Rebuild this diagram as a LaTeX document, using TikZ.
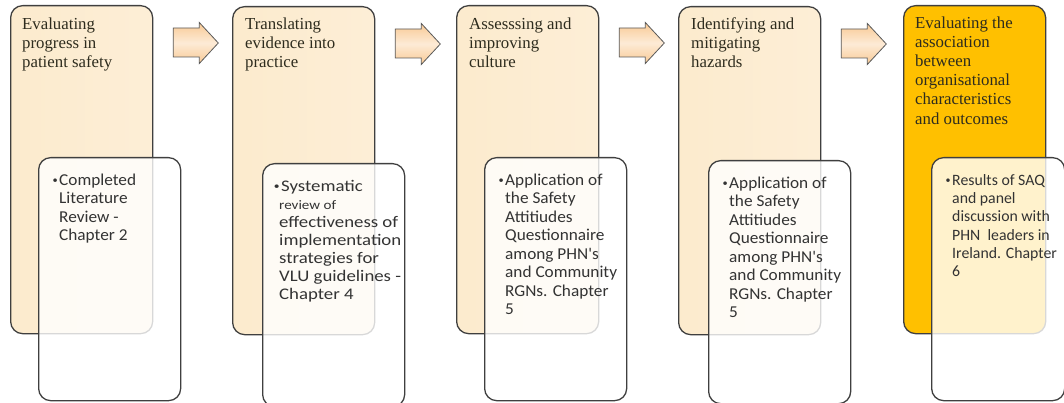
\documentclass[tikz,border=0pt]{standalone}
\usepackage{fontspec}
\setmainfont{Liberation Serif}
\newfontfamily\calibrifont[FakeStretch=1.04]{Carlito}
\newfontfamily\calibriwide[FakeStretch=1.16]{Carlito}
\newfontfamily\calibriplain{Carlito}
\usetikzlibrary{calc}
\definecolor{edge}{HTML}{3F3F3F}
\definecolor{arrowA}{HTML}{F8C994}
\definecolor{arrowB}{HTML}{FDEBD6}
\definecolor{txt}{HTML}{2E2C1E}
\definecolor{txtB}{HTML}{333333}
\definecolor{creamA}{HTML}{F8DAAE}
\definecolor{creamB}{HTML}{FCEACB}
\definecolor{creamC}{HTML}{FDEFD9}
\definecolor{goldA}{HTML}{F4B600}
\definecolor{goldB}{HTML}{FFD34C}
\definecolor{goldC}{HTML}{FFC000}
\pgfdeclarehorizontalshading{creamsh}{100bp}{color(0bp)=(creamA); color(4bp)=(creamA); color(12bp)=(creamB); color(90bp)=(creamC); color(100bp)=(creamC)}
\pgfdeclarehorizontalshading{goldsh}{100bp}{color(0bp)=(goldA); color(3bp)=(goldB); color(12bp)=(goldC); color(88bp)=(goldC); color(95bp)=(goldB); color(100bp)=(goldA)}
\newcommand{\bul}{\llap{\fontsize{10}{10}\selectfont\raisebox{1.5pt}{•}\hspace{1.5pt}}}
\newcommand{\st}{\rule{0pt}{12pt}}
\begin{document}
\begin{tikzpicture}[x=1pt,y=-1pt,
  bigbox/.style={draw=edge, line width=1.3pt, rounded corners=12pt, minimum width=142pt, minimum height=328pt, anchor=north west, inner sep=0pt,
    shading=creamsh},
  goldbox/.style={bigbox, shading=goldsh},
  innerbox/.style={draw=edge, line width=1.3pt, rounded corners=12pt, minimum width=142pt, minimum height=243pt, anchor=north west, inner sep=0pt,
    fill=white, fill opacity=0.8},
  titletext/.style={anchor=north west, inner sep=0pt, align=left, text=txt, font=\fontsize{16.8}{19.2}\selectfont},
  bodytext/.style={anchor=north west, inner sep=0pt, align=left, text=txtB, font=\calibrifont\fontsize{16.6}{18.5}\selectfont},
  blockarrow/.style={draw=black!65, line width=0.8pt, top color=arrowA, bottom color=arrowA, middle color=arrowB}
]
\useasboundingbox (0,0) rectangle (1064,403);

% big boxes
\node[bigbox] (b1) at (10,5) {};
\node[bigbox] (b2) at (232,6) {};
\node[bigbox] (b3) at (456,5) {};
\node[bigbox] (b4) at (678,6) {};
\node[goldbox] (b5) at (903,5) {};

% arrows
\foreach \b in {b1,b2,b3,b4}{
  \draw[blockarrow] ($(\b.north east)+(20,23)$) -- ($(\b.north east)+(46,23)$) -- ($(\b.north east)+(46,17.5)$)
    -- ($(\b.north east)+(65,38)$) -- ($(\b.north east)+(46,58.5)$) -- ($(\b.north east)+(46,52)$)
    -- ($(\b.north east)+(20,52)$) -- cycle;
}

% titles
\node[titletext] (t1) at ($(b1.north west)+(12,12)$) {\st Evaluating\\progress in\\patient safety};
\node[titletext] (t2) at ($(b2.north west)+(13,11)$) {\st Translating\\evidence into\\practice};
\node[titletext] (t3) at ($(b3.north west)+(13,12)$) {\st Assesssing and\\improving\\culture};
\node[titletext] (t4) at ($(b4.north west)+(13,11)$) {\st Identifying and\\mitigating\\hazards};
\node[titletext] (t5) at ($(b5.north west)+(12,11)$) {\st Evaluating the\\association\\between\\organisational\\characteristics\\and outcomes};

% inner boxes
\node[innerbox] (i1) at (38,157) {};
\node[innerbox] (i2) at (262,163) {};
\node[innerbox] (i3) at (484,157) {};
\node[innerbox] (i4) at (708,160) {};
\node[innerbox, minimum width=133pt] (i5) at (931,157) {};

% body texts
\node[bodytext] (x1) at ($(i1.north west)+(21,16)$) {\st\bul Completed\\Literature\\Review -\\Chapter 2};
\node[bodytext, font=\calibriwide\fontsize{16.2}{18}\selectfont] (x2) at ($(i2.north west)+(17,16)$) {\st\hspace{2pt}\bul Systematic\\{\fontsize{13}{18}\selectfont review of}\\effectiveness of\\implementation\\strategies for\\VLU guidelines -\\Chapter 4};
\node[bodytext] (x3) at ($(i3.north west)+(21,16)$) {\st\bul Application of\\the Safety\\Attitiudes\\Questionnaire\\among PHN's\\and Community\\RGNs. Chapter\\5};
\node[bodytext] (x4) at ($(i4.north west)+(21,16)$) {\st\bul Application of\\the Safety\\Attitiudes\\Questionnaire\\among PHN's\\and Community\\RGNs. Chapter\\5};
\node[bodytext, font=\calibriplain\fontsize{15.8}{18.3}\selectfont] (x5) at ($(i5.north west)+(21,16)$) {\st\bul Results of SAQ\\and panel\\discussion with\\PHN\ \ leaders in\\Ireland. Chapter\\6};
\end{tikzpicture}
\end{document}
